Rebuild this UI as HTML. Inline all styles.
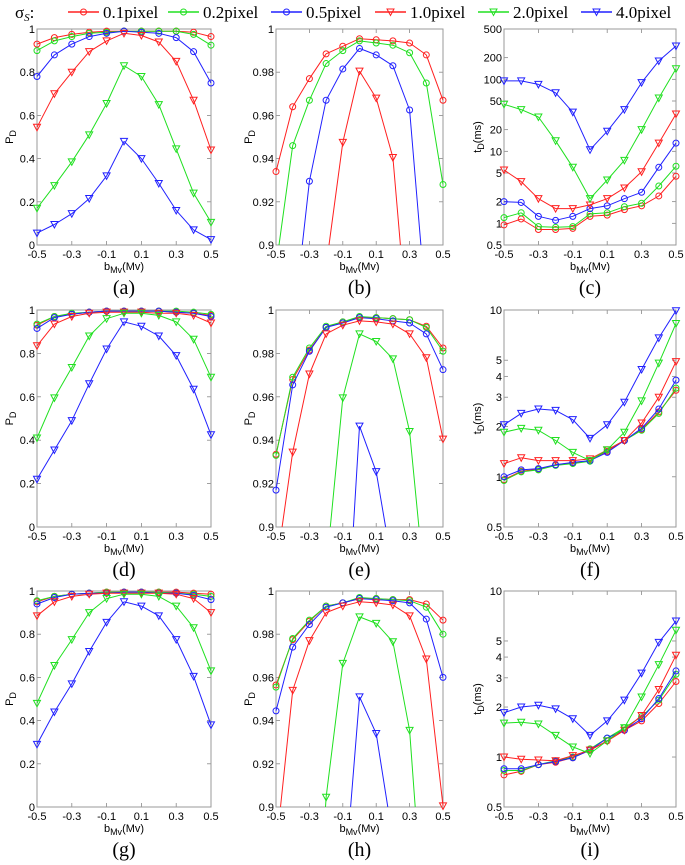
<!DOCTYPE html>
<html><head><meta charset="utf-8"><style>
html,body{margin:0;padding:0;background:#fff;width:685px;height:865px;overflow:hidden;}
svg{display:block;font-family:"Liberation Sans",sans-serif;}
.tk{font-size:11px;fill:#000;}
.pl{font-family:"Liberation Serif",serif;font-size:20px;}
.lg{font-family:"Liberation Serif",serif;font-size:17px;}
</style></head><body>
<svg id="chart" width="685" height="865" viewBox="0 0 685 865" overflow="hidden" xmlns="http://www.w3.org/2000/svg">
<g id="legend"></g>
</svg>
<script>
const xValues=[-0.5,-0.4,-0.3,-0.2,-0.1,0,0.1,0.2,0.3,0.4,0.5];
const xTicks=[-0.5,-0.3,-0.1,0.1,0.3,0.5];
const seriesNames=["0.1pixel","0.2pixel","0.5pixel","1.0pixel","2.0pixel","4.0pixel"];
const seriesColors=["#ff2020","#20e020","#2020ff","#ff2020","#20e020","#2020ff"];
const seriesMarkers=["o","o","o","v","v","v"];
const panelLabels=["(a)","(b)","(c)","(d)","(e)","(f)","(g)","(h)","(i)"];
const ticksPD=[0,0.2,0.4,0.6,0.8,1];
const ticksPDzoom=[0.9,0.92,0.94,0.96,0.98,1];
const ticksTc=[0.5,1,2,5,10,20,50,100,200,500];
const ticksTf=[0.5,1,2,3,4,5,10];
const dataA=[[0.93,0.96,0.975,0.985,0.99,0.99,0.99,0.99,0.99,0.985,0.965],[0.90,0.945,0.965,0.98,0.985,0.99,0.99,0.99,0.99,0.975,0.925],[0.78,0.88,0.93,0.965,0.98,0.99,0.985,0.98,0.96,0.895,0.75],[0.545,0.70,0.80,0.895,0.945,0.98,0.97,0.94,0.85,0.67,0.44],[0.17,0.275,0.385,0.51,0.655,0.83,0.78,0.65,0.445,0.24,0.105],[0.055,0.095,0.145,0.215,0.32,0.48,0.40,0.285,0.16,0.07,0.025]];
const dataB=[[0.934,0.964,0.977,0.9885,0.992,0.9955,0.995,0.9945,0.9935,0.988,0.967],[0.89,0.946,0.967,0.984,0.990,0.9945,0.9935,0.9925,0.989,0.975,0.928],[0.80,0.86,0.9295,0.967,0.9815,0.991,0.988,0.983,0.9625,0.87,0.80],[0.55,0.70,0.80,0.89,0.9475,0.9805,0.968,0.9405,0.85,0.67,0.44],[0.17,0.275,0.385,0.51,0.655,0.83,0.78,0.65,0.445,0.24,0.105],[0.055,0.095,0.145,0.215,0.32,0.48,0.40,0.285,0.16,0.07,0.025]];
const dataC=[[0.95,1.15,0.82,0.82,0.85,1.25,1.3,1.55,1.75,2.4,4.5],[1.2,1.4,0.9,0.88,0.9,1.35,1.4,1.7,1.9,3.3,6.2],[2.0,1.95,1.25,1.1,1.25,1.6,1.75,2.2,2.7,6,13],[5.5,3.8,2.2,1.6,1.6,1.8,2.2,3.1,5.2,13,33],[45,38,30,14,6,2.2,4,7.5,20,55,140],[95,95,85,65,35,10.5,19,38,90,180,290]];
const dataD=[[0.93,0.97,0.98,0.99,0.995,0.995,0.995,0.995,0.99,0.985,0.975],[0.935,0.97,0.985,0.99,0.995,0.995,0.995,0.995,0.995,0.99,0.98],[0.915,0.965,0.98,0.99,0.995,0.995,0.995,0.995,0.99,0.985,0.97],[0.835,0.935,0.97,0.985,0.99,0.99,0.99,0.985,0.985,0.975,0.94],[0.41,0.595,0.735,0.88,0.96,0.985,0.985,0.975,0.945,0.865,0.69],[0.22,0.355,0.49,0.66,0.82,0.945,0.925,0.88,0.79,0.635,0.425]];
const dataE=[[0.9335,0.968,0.9815,0.992,0.9945,0.9965,0.9965,0.996,0.9955,0.9925,0.9825],[0.933,0.969,0.9825,0.9925,0.9945,0.997,0.9965,0.996,0.9955,0.992,0.981],[0.917,0.9655,0.981,0.992,0.994,0.9965,0.996,0.995,0.994,0.989,0.9725],[0.88,0.9345,0.9705,0.989,0.993,0.995,0.9945,0.9935,0.989,0.978,0.9405],[0.41,0.595,0.735,0.88,0.9595,0.989,0.9855,0.9775,0.944,0.865,0.69],[0.22,0.355,0.49,0.66,0.82,0.9465,0.9255,0.88,0.79,0.635,0.425]];
const dataF=[[0.96,1.08,1.11,1.18,1.21,1.25,1.42,1.65,1.92,2.45,3.3],[0.95,1.07,1.1,1.17,1.2,1.24,1.45,1.65,1.9,2.4,3.4],[1.0,1.1,1.12,1.18,1.22,1.25,1.4,1.65,1.95,2.55,3.8],[1.2,1.3,1.25,1.25,1.25,1.28,1.45,1.65,2.1,3.0,4.9],[1.85,1.95,1.9,1.65,1.4,1.25,1.45,1.85,2.85,4.8,8.3],[2.05,2.4,2.55,2.5,2.2,1.7,2.05,2.8,4.4,6.8,9.9]];
const dataG=[[0.95,0.975,0.985,0.99,0.995,0.995,0.995,0.995,0.995,0.99,0.985],[0.955,0.975,0.985,0.99,0.995,0.995,0.995,0.995,0.99,0.985,0.975],[0.94,0.97,0.985,0.99,0.99,0.995,0.995,0.99,0.99,0.98,0.96],[0.885,0.95,0.975,0.985,0.99,0.99,0.99,0.99,0.985,0.965,0.90],[0.48,0.655,0.775,0.90,0.965,0.985,0.985,0.975,0.93,0.83,0.63],[0.29,0.44,0.57,0.72,0.855,0.95,0.93,0.885,0.775,0.605,0.38]];
const dataH=[[0.9565,0.9775,0.986,0.993,0.9945,0.9965,0.9965,0.996,0.996,0.994,0.9865],[0.9555,0.978,0.9865,0.993,0.9945,0.997,0.9965,0.996,0.9955,0.9925,0.98],[0.9445,0.974,0.9845,0.9925,0.9945,0.9965,0.996,0.9955,0.9945,0.987,0.960],[0.88,0.954,0.977,0.990,0.993,0.995,0.9945,0.9935,0.9885,0.9685,0.9005],[0.48,0.655,0.775,0.9045,0.9665,0.988,0.985,0.9765,0.9355,0.83,0.63],[0.29,0.44,0.57,0.72,0.855,0.951,0.934,0.885,0.775,0.605,0.38]];
const dataI=[[0.78,0.82,0.9,0.93,0.99,1.1,1.25,1.45,1.65,2.1,2.85],[0.83,0.83,0.9,0.95,1.0,1.12,1.3,1.5,1.75,2.2,3.15],[0.85,0.85,0.9,0.94,0.99,1.1,1.3,1.45,1.7,2.25,3.3],[1.0,0.97,0.96,0.95,1.02,1.1,1.25,1.45,1.78,2.55,4.1],[1.6,1.62,1.58,1.35,1.15,1.05,1.25,1.5,2.3,3.6,5.8],[1.85,2.0,2.05,1.95,1.7,1.35,1.65,2.2,3.2,4.9,6.6]];

const NS="http://www.w3.org/2000/svg";
const svg=document.getElementById('chart');
function mk(tag,attrs,parent){const e=document.createElementNS(NS,tag);for(const k in attrs)e.setAttribute(k,attrs[k]);(parent||svg).appendChild(e);return e;}
function marker(parent,type,x,y,color){
  if(type==="o"){const c=mk('circle',{cx:x,cy:y,r:3,fill:'none',stroke:color,'stroke-width':1},parent);
    
    }
  else{const p=mk('polygon',{points:`${x-3.5},${y-3} ${x+3.5},${y-3} ${x},${y+3.5}`,fill:'none',stroke:color,'stroke-width':1},parent);
    
    }
}
const cols=[{l:37,r:211,yl:9},{l:276,r:443,yl:248},{l:504,r:676,yl:477}];
const rows=[{t:29,b:245},{t:310,b:527},{t:591,b:807}];
const panels=[
 {d:dataA,ticks:ticksPD,lo:0,hi:1,log:false,yl:"P"},
 {d:dataB,ticks:ticksPDzoom,lo:0.9,hi:1,log:false,yl:"P"},
 {d:dataC,ticks:ticksTc,lo:0.5,hi:500,log:true,yl:"t"},
 {d:dataD,ticks:ticksPD,lo:0,hi:1,log:false,yl:"P"},
 {d:dataE,ticks:ticksPDzoom,lo:0.9,hi:1,log:false,yl:"P"},
 {d:dataF,ticks:ticksTf,lo:0.5,hi:10,log:true,yl:"t"},
 {d:dataG,ticks:ticksPD,lo:0,hi:1,log:false,yl:"P"},
 {d:dataH,ticks:ticksPDzoom,lo:0.9,hi:1,log:false,yl:"P"},
 {d:dataI,ticks:ticksTf,lo:0.5,hi:10,log:true,yl:"t"}];
panels.forEach((p,i)=>{
  const c=cols[i%3],r=rows[Math.floor(i/3)];
  const g=mk('g',{});
  
  
  const xs=v=>c.l+(v+0.5)/1*(c.r-c.l);
  const ys=v=>p.log? r.b-(Math.log10(v)-Math.log10(p.lo))/(Math.log10(p.hi)-Math.log10(p.lo))*(r.b-r.t) : r.b-(v-p.lo)/(p.hi-p.lo)*(r.b-r.t);
  p.ticks.forEach(t=>{const y=ys(t);
    mk('line',{x1:c.l,x2:c.l+4,y1:y,y2:y,stroke:'#888','stroke-width':0.8},g);
    mk('line',{x1:c.r,x2:c.r-4,y1:y,y2:y,stroke:'#888','stroke-width':0.8},g);
    const tx=mk('text',{x:c.l-2,y:y+4,'text-anchor':'end',class:'tk'},g);tx.textContent=String(t);
    
    });
  xTicks.forEach(t=>{const x=xs(t);
    mk('line',{x1:x,x2:x,y1:r.b,y2:r.b-4,stroke:'#888','stroke-width':0.8},g);
    mk('line',{x1:x,x2:x,y1:r.t,y2:r.t+4,stroke:'#888','stroke-width':0.8},g);
    const tx=mk('text',{x:x,y:r.b+13,'text-anchor':'middle',class:'tk'},g);tx.textContent=String(t);
    
    });
  mk('rect',{x:c.l,y:r.t,width:c.r-c.l,height:r.b-r.t,fill:'none',stroke:'#999','stroke-width':1},g);
  const sg=mk('g',{},g);
  p.d.forEach((vals,s)=>{
    // geometric clipping of segments to [r.t, r.b]
    let dstr='';
    for(let k=0;k<vals.length-1;k++){
      let x1=xs(xValues[k]),y1=ys(vals[k]),x2=xs(xValues[k+1]),y2=ys(vals[k+1]);
      if((y1>r.b&&y2>r.b)||(y1<r.t&&y2<r.t))continue;
      const clip=(xa,ya,xb,yb)=>{
        if(ya>r.b){xa=xa+(xb-xa)*(r.b-ya)/(yb-ya);ya=r.b;}
        if(ya<r.t){xa=xa+(xb-xa)*(r.t-ya)/(yb-ya);ya=r.t;}
        return [xa,ya];};
      const a=clip(x1,y1,x2,y2),b=clip(x2,y2,x1,y1);
      dstr+=`M${a[0].toFixed(1)},${a[1].toFixed(1)}L${b[0].toFixed(1)},${b[1].toFixed(1)}`;
    }
    const pl=mk('path',{d:dstr||'M0,0',fill:'none',stroke:seriesColors[s],'stroke-width':1,'stroke-linejoin':'round'},sg);
    
    
    vals.forEach((v,k)=>{const y=ys(v);if(y>=r.t-1&&y<=r.b+1)marker(sg,seriesMarkers[s],xs(xValues[k]),y,seriesColors[s]);});
  });
  const xl=mk('text',{x:(c.l+c.r)/2,y:r.b+25,'text-anchor':'middle',class:'tk','font-size':'12'},g);
  xl.innerHTML='b<tspan font-size="9" dy="3">Mv</tspan><tspan dy="-3">(Mv)</tspan>';
  
  
  const yc=(r.t+r.b)/2;
  const yt=mk('text',{x:c.yl+4,y:yc,'text-anchor':'middle',class:'tk','font-size':'12',transform:`rotate(-90 ${c.yl+4} ${yc})`},g);
  yt.innerHTML=p.yl==="P"?'P<tspan font-size="9" dy="3">D</tspan>':'t<tspan font-size="9" dy="3">D</tspan><tspan dy="-3">(ms)</tspan>';
  
  
  const pl=mk('text',{x:(c.l+c.r)/2,y:r.b+49,'text-anchor':'middle',class:'pl'},g);pl.textContent=panelLabels[i];
  
  
});
const lg=document.getElementById('legend');
const st=mk('text',{x:15,y:18,class:'lg'},lg);st.innerHTML='σ<tspan font-size="11" dy="3" font-style="italic">S</tspan><tspan dy="-3">:</tspan>';


const lgX=[68,168,271,375,478,581];
seriesNames.forEach((n,s)=>{
  const e=mk('g',{},lg);
  
  
  mk('line',{x1:lgX[s],x2:lgX[s]+31,y1:12,y2:12,stroke:seriesColors[s],'stroke-width':1.6},e);
  marker(e,seriesMarkers[s],lgX[s]+15.5,12,seriesColors[s]);
  const t=mk('text',{x:lgX[s]+35,y:18,class:'lg'},e);t.textContent=n;
});
</script>
</body></html>
